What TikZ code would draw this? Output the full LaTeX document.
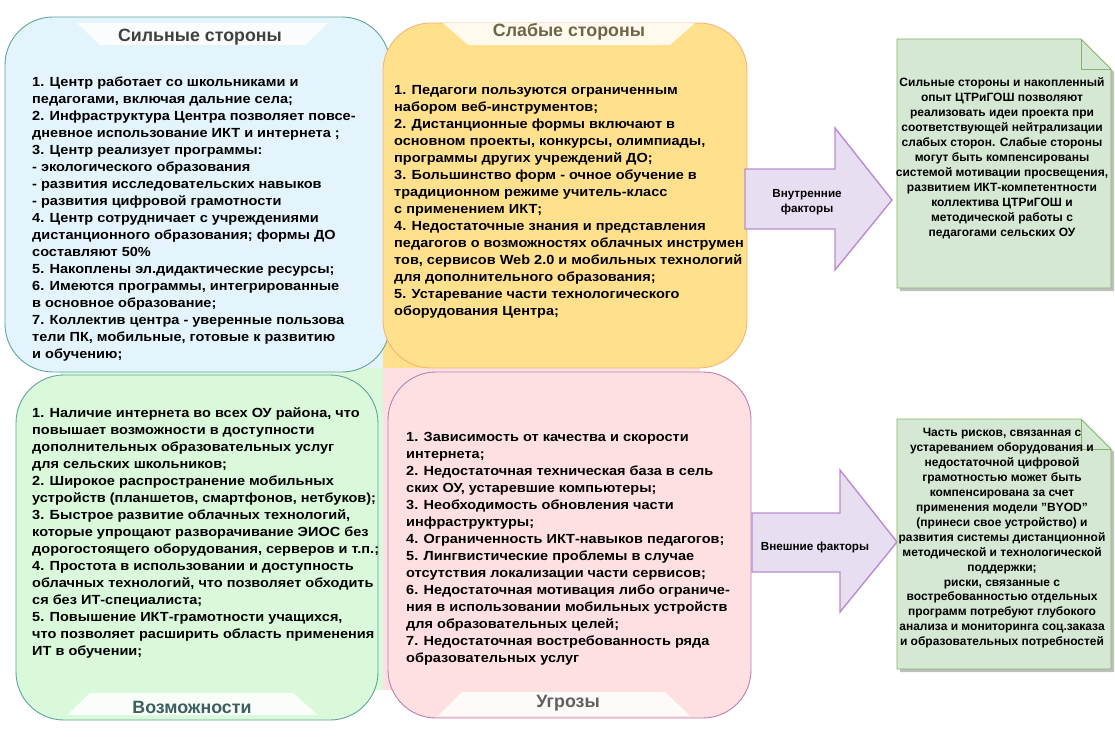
\documentclass[tikz,border=0pt]{standalone}
\usepackage{fontspec}
\setmainfont{Liberation Sans}
\newfontfamily\bodyfont[FakeStretch=1.1]{Liberation Sans}
\definecolor{bluefill}{RGB}{227,244,253}
\definecolor{tealline}{RGB}{95,165,155}
\definecolor{yelfill}{RGB}{255,224,140}
\definecolor{yelline}{RGB}{248,180,120}
\definecolor{grnfill}{RGB}{217,249,218}
\definecolor{pinkfill}{RGB}{254,224,227}
\definecolor{pinkline}{RGB}{190,125,175}
\definecolor{arrfill}{RGB}{232,222,241}
\definecolor{arrline}{RGB}{185,140,210}
\definecolor{notefill}{RGB}{213,232,212}
\definecolor{noteline}{RGB}{130,179,102}
\definecolor{tone}{RGB}{64,64,64}
\definecolor{ttwo}{RGB}{110,100,70}
\definecolor{tthree}{RGB}{60,95,95}
\definecolor{tfour}{RGB}{95,95,95}
\newcommand\fstrut{\rule{0pt}{10pt}}
\newcommand\nstrut{\rule{0pt}{9pt}}
\tikzset{
  quad/.style={rectangle, rounded corners=48pt, inner sep=0pt, outer sep=0pt, line width=0.9pt},
  banner/.style={fill=white, fill opacity=0.85, draw=none},
  ttl/.style={anchor=base, inner sep=0pt, font=\bfseries\fontsize{17.8}{20}\selectfont},
  body/.style={anchor=north west, inner sep=0pt, align=left, font=\bodyfont\bfseries\fontsize{13.2}{17}\selectfont},
  arrowshape/.style={fill=arrfill, draw=arrline, line width=1.4pt, line join=miter},
  arrtext/.style={inner sep=0pt, align=center, font=\bfseries\fontsize{11.7}{15}\selectfont},
  notebox/.style={fill=notefill, draw=noteline, line width=0.9pt},
  noteshadow/.style={fill=black, opacity=0.25, draw=none},
  notetext/.style={anchor=north, inner sep=0pt, align=center, font=\bfseries\fontsize{12}{15}\selectfont}
}
\begin{document}
\begin{tikzpicture}[x=1pt,y=-1pt]
\useasboundingbox (0,0) rectangle (1115,741);
% background quadrants
\fill[bluefill] (60,60) rectangle (383,368);
\fill[yelfill] (383,60) rectangle (700,368);
\fill[grnfill] (60,368) rectangle (383,690);
\fill[pinkfill] (383,368) rectangle (700,690);
% quadrant boxes
\node[quad, fill=bluefill, draw=tealline, minimum width=385pt, minimum height=355pt] (S) at (197.5,194.5) {};
\node[quad, fill=yelfill, draw=yelline, minimum width=364pt, minimum height=345pt] (W) at (565,195.5) {};
\node[quad, fill=grnfill, draw=tealline, minimum width=362pt, minimum height=345pt] (O) at (197,547.5) {};
\node[quad, fill=pinkfill, draw=pinkline, minimum width=363pt, minimum height=346pt] (T) at (569.5,545) {};
% banners
\fill[banner] (77,23) -- (328,23) -- (305,45) -- (100,45) -- cycle;
\fill[banner] (443,23) -- (695,23) -- (670,45) -- (468,45) -- cycle;
\fill[banner] (90,693) -- (293,693) -- (318,715) -- (67,715) -- cycle;
\fill[banner] (462,692) -- (665,692) -- (690,716) -- (438,716) -- cycle;
\node[ttl, text=tone] (Sttl) at (200,41.5) {Сильные стороны};
\node[ttl, text=ttwo] (Wttl) at (569,36.5) {Слабые стороны};
\node[ttl, text=tthree] (Ottl) at (192,713) {Возможности};
\node[ttl, text=tfour] (Tttl) at (568,707) {Угрозы};
% body texts
\node[body] (Stext) at (32,76) {\fstrut 1. Центр работает со школьниками и\\
педагогами, включая дальние села;\\
2. Инфраструктура Центра позволяет повсе-\\
дневное использование ИКТ и интернета ;\\
3. Центр реализует программы:\\
- экологического образования\\
- развития исследовательских навыков\\
- развития цифровой грамотности\\
4. Центр сотрудничает с учреждениями\\
дистанционного образования; формы ДО\\
составляют 50\%\\
5. Накоплены эл.дидактические ресурсы;\\
6. Имеются программы, интегрированные\\
в основное образование;\\
7. Коллектив центра - уверенные пользова\\
тели ПК, мобильные, готовые к развитию\\
и обучению;};
\node[body] (Wtext) at (394,84.5) {\fstrut 1. Педагоги пользуются ограниченным\\
набором веб-инструментов;\\
2. Дистанционные формы включают в\\
основном проекты, конкурсы, олимпиады,\\
программы других учреждений ДО;\\
3. Большинство форм - очное обучение в\\
традиционном режиме учитель-класс\\
с применением ИКТ;\\
4. Недостаточные знания и представления\\
педагогов о возможностях облачных инструмен\\
тов, сервисов Web 2.0 и мобильных технологий\\
для дополнительного образования;\\
5. Устаревание части технологического\\
оборудования Центра;};
\node[body] (Otext) at (32,407) {\fstrut 1. Наличие интернета во всех ОУ района, что\\
повышает возможности в доступности\\
дополнительных образовательных услуг\\
для сельских школьников;\\
2. Широкое распространение мобильных\\
устройств (планшетов, смартфонов, нетбуков);\\
3. Быстрое развитие облачных технологий,\\
которые упрощают разворачивание ЭИОС без\\
дорогостоящего оборудования, серверов и т.п.;\\
4. Простота в использовании и доступность\\
облачных технологий, что позволяет обходить\\
ся без ИТ-специалиста;\\
5. Повышение ИКТ-грамотности учащихся,\\
что позволяет расширить область применения\\
ИТ в обучении;};
\node[body] (Ttext) at (406,431) {\fstrut 1. Зависимость от качества и скорости\\
интернета;\\
2. Недостаточная техническая база в сель\\
ских ОУ, устаревшие компьютеры;\\
3. Необходимость обновления части\\
инфраструктуры;\\
4. Ограниченность ИКТ-навыков педагогов;\\
5. Лингвистические проблемы в случае\\
отсутствия локализации части сервисов;\\
6. Недостаточная мотивация либо ограниче-\\
ния в использовании мобильных устройств\\
для образовательных целей;\\
7. Недостаточная востребованность ряда\\
образовательных услуг};
% arrows
\draw[arrowshape] (745,169) -- (835,169) -- (835,128) -- (892,200) -- (835,270) -- (835,229) -- (745,229) -- cycle;
\node[arrtext, anchor=north] (A1) at (807,188) {\nstrut Внутренние\\факторы};
\draw[arrowshape] (752,513) -- (840,513) -- (840,470) -- (897,542) -- (840,612) -- (840,572) -- (752,572) -- cycle;
\node[arrtext, anchor=base] (A2) at (815,550) {Внешние факторы};
% notes
\fill[noteshadow] (900,42) -- (1084,42) -- (1114,72) -- (1114,291) -- (900,291) -- cycle;
\draw[notebox] (897,39) -- (1081,39) -- (1111,69) -- (1111,288) -- (897,288) -- cycle;
\draw[noteline, line width=0.9pt] (1081,39) -- (1081,69) -- (1111,69);
\node[notetext] (N1) at (1002,77) {\nstrut Сильные стороны и накопленный\\
опыт ЦТРиГОШ позволяют\\
реализовать идеи проекта при\\
соответствующей нейтрализации\\
слабых сторон. Слабые стороны\\
могут быть компенсированы\\
системой мотивации просвещения,\\
развитием ИКТ-компетентности\\
коллектива ЦТРиГОШ и\\
методической работы с\\
педагогами сельских ОУ};
\fill[noteshadow] (900,422) -- (1084,422) -- (1114,452) -- (1114,672) -- (900,672) -- cycle;
\draw[notebox] (897,419) -- (1081,419) -- (1111,449) -- (1111,669) -- (897,669) -- cycle;
\draw[noteline, line width=0.9pt] (1081,419) -- (1081,449) -- (1111,449);
\node[notetext, font=\bfseries\fontsize{12}{14.93}\selectfont] (N2) at (1002,427.5) {\nstrut Часть рисков, связанная с\\
устареванием оборудования и\\
недостаточной цифровой\\
грамотностью может быть\\
компенсирована за счет\\
применения модели \char34 BYOD\char34\\
(принеси свое устройство) и\\
развития системы дистанционной\\
методической и технологической\\
поддержки;\\
риски, связанные с\\
востребованностью отдельных\\
программ потребуют глубокого\\
анализа и мониторинга соц.заказа\\
и образовательных потребностей};
\end{tikzpicture}
\end{document}
